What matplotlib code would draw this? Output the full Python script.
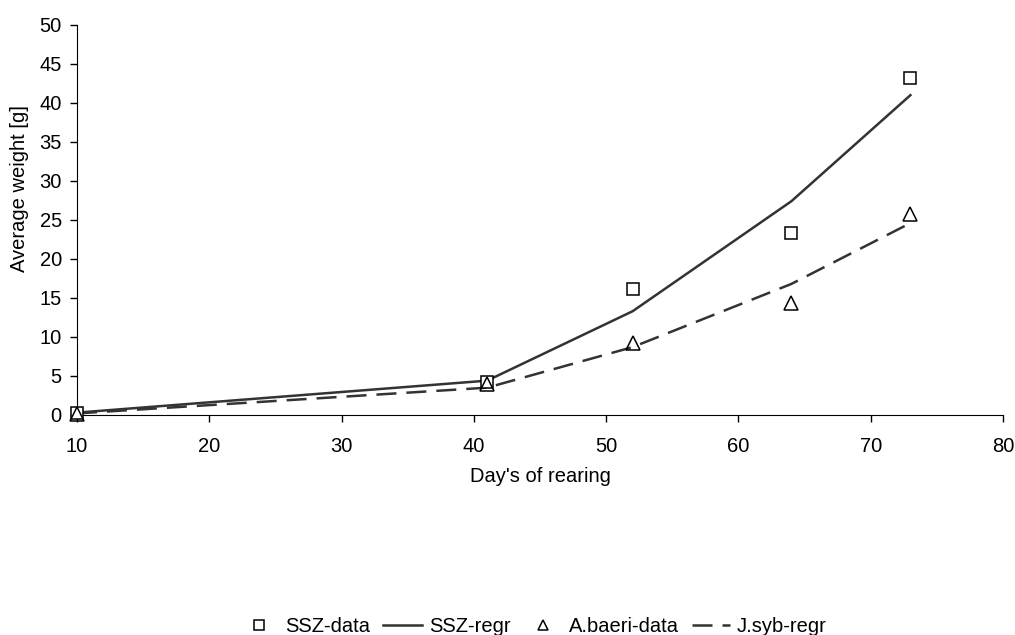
import matplotlib.pyplot as plt

plt.rcParams['font.family'] = ['Liberation Sans', 'DejaVu Sans']

days = [10, 41, 52, 64, 73]
ssz_data = [0.2, 4.2, 16.2, 23.3, 43.2]
ssz_regr = [0.3, 4.4, 13.3, 27.4, 41.0]
baeri_data = [0.1, 4.0, 9.2, 14.3, 25.8]
jsyb_regr = [0.2, 3.5, 8.7, 16.8, 24.6]

LINE = "#333333"
FS = 14.5

fig = plt.figure(figsize=(10.15, 6.35), dpi=100)
ax = fig.add_axes([0.0759, 0.3465, 0.9123, 0.6142])

ax.plot(days, ssz_data, "s", ms=9, mfc="white", mec="black", mew=1.1,
        ls="none", label="SSZ-data", clip_on=False, zorder=4)
ax.plot(days, ssz_regr, "-", color=LINE, lw=1.8, label="SSZ-regr", zorder=3)
ax.plot(days, baeri_data, "^", ms=10.5, mfc="none", mec="black", mew=1.1,
        ls="none", label="A.baeri-data", clip_on=False, zorder=5)
ax.plot(days, jsyb_regr, "--", color=LINE, lw=1.8, dashes=(8, 4),
        label="J.syb-regr", zorder=3)

ax.set_xlim(10, 80)
ax.set_ylim(0, 50)
ax.set_xticks(range(10, 81, 10))
ax.set_yticks(range(0, 51, 5))
ax.tick_params(direction="out", length=5, width=1, labelsize=FS, colors="black")
ax.tick_params(axis="x", pad=11)
ax.tick_params(axis="y", pad=6)
ax.spines["top"].set_visible(False)
ax.spines["right"].set_visible(False)
ax.set_xlabel("Day's of rearing", fontsize=FS, labelpad=8)
ax.set_ylabel("Average weight [g]", fontsize=FS)
ax.yaxis.set_label_coords(-0.052, 0.58)

fig.legend(loc="center", bbox_to_anchor=(0.5256, 0.014), ncol=4, frameon=False,
           fontsize=FS, handlelength=1.9, columnspacing=0.65, handletextpad=0.35,
           markerscale=0.75, borderpad=0.1)

fig.savefig("out.png", dpi=100)
